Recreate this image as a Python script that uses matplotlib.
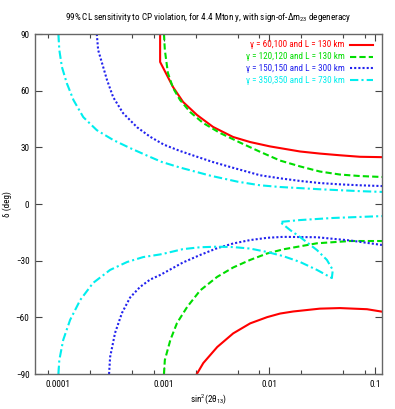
import numpy as np
import matplotlib
matplotlib.use("Agg")
import matplotlib.pyplot as plt
from matplotlib.ticker import LogLocator, FixedLocator, NullFormatter

plt.rcParams['font.family'] = ['Roboto Condensed', 'DejaVu Sans']
plt.rcParams['mathtext.fontset'] = 'custom'
plt.rcParams['mathtext.rm'] = 'Roboto Condensed'
plt.rcParams['mathtext.it'] = 'Roboto Condensed:italic'

# red: gamma = 60,100, L = 130 km
red_up_x = [9.2e-4, 9.2e-4, 1.22e-3, 1.52e-3, 2.06e-3, 2.92e-3, 4.51e-3, 6.56e-3, 1.01e-2,
            1.95e-2, 3.0e-2, 4.65e-2, 7.2e-2, 0.1165]
red_up_y = [90, 75.2, 61.9, 54.0, 47.1, 40.8, 35.5, 32.8, 30.5, 27.8, 26.7, 25.8, 25.0, 24.8]
red_lo_x = [2.05e-3, 2.36e-3, 3.2e-3, 4.53e-3, 6.56e-3, 9.5e-3, 1.26e-2, 1.68e-2, 3.0e-2,
            4.65e-2, 8.4e-2, 0.1165]
red_lo_y = [-90, -84.2, -75.7, -68.5, -63.2, -59.9, -58.0, -56.9, -55.4, -55.1, -55.7, -57.0]

# green: gamma = 120,120, L = 130 km
grn_up_x = [1.0e-3, 1.02e-3, 1.09e-3, 1.22e-3, 1.42e-3, 1.77e-3, 2.35e-3, 3.4e-3, 5.27e-3,
            8.17e-3, 1.26e-2, 1.95e-2, 3.0e-2, 4.65e-2, 7.2e-2, 0.1165]
grn_up_y = [90, 81.5, 69.4, 61.4, 55.1, 48.7, 42.9, 37.6, 32.5, 27.6, 23.0, 19.9, 17.2, 15.6,
            14.8, 14.3]
grn_lo_x = [1.0e-3, 1.02e-3, 1.15e-3, 1.33e-3, 1.66e-3, 2.2e-3, 3.19e-3, 4.53e-3, 6.56e-3,
            9.5e-3, 1.35e-2, 2.82e-2, 5.8e-2, 0.1165]
grn_lo_y = [-90, -82.6, -72.0, -63.0, -54.5, -45.8, -38.6, -33.6, -29.6, -26.2, -24.0, -20.8,
            -19.6, -19.6]

# blue: gamma = 150,150, L = 300 km
blu_up_x = [2.31e-4, 2.38e-4, 2.59e-4, 2.89e-4, 3.3e-4, 4.1e-4, 5.57e-4, 7.4e-4, 1.0e-3,
            1.4e-3, 1.89e-3, 2.92e-3, 4.24e-3, 8.17e-3, 1.26e-2, 1.95e-2, 3.0e-2, 4.65e-2,
            7.2e-2, 0.1165]
blu_up_y = [90, 81.5, 74.6, 65.6, 56.6, 48.1, 40.6, 35.6, 31.4, 28.2, 25.7, 22.2, 19.6, 15.2,
            13.6, 12.2, 11.1, 10.4, 9.9, 9.5]
blu_lo_x = [3.02e-4, 3.09e-4, 3.44e-4, 4.0e-4, 4.78e-4, 5.94e-4, 7.4e-4, 9.2e-4, 1.07e-3,
            1.51e-3, 2.2e-3, 3.19e-3, 4.53e-3, 6.56e-3, 9.5e-3, 1.35e-2, 2.82e-2, 5.8e-2, 0.1165]
blu_lo_y = [-90, -81.0, -68.3, -57.7, -49.5, -43.9, -40.0, -37.6, -35.6, -31.0, -27.0, -23.4,
            -20.9, -19.1, -17.9, -17.4, -17.6, -19.3, -21.7]

# cyan: gamma = 350,350, L = 730 km
cyn_up_x = [1.0e-4, 1.02e-4, 1.08e-4, 1.2e-4, 1.39e-4, 1.72e-4, 2.31e-4, 3.3e-4, 4.78e-4,
            6.93e-4, 9.5e-4, 1.4e-3, 2.75e-3, 5.0e-3, 8.17e-3, 1.26e-2, 1.95e-2, 3.0e-2,
            4.65e-2, 7.2e-2, 0.1165]
cyn_up_y = [90, 81.5, 72.5, 64.0, 55.0, 46.0, 39.1, 33.9, 29.6, 25.6, 22.3, 19.4, 15.0, 11.8,
            9.9, 9.0, 8.4, 7.8, 7.3, 6.8, 6.4]
cyn_lo_x = [1.0e-4, 1.02e-4, 1.11e-4, 1.29e-4, 1.61e-4, 2.13e-4, 3.09e-4, 4.48e-4, 6.36e-4,
            9.2e-4, 1.07e-3, 1.51e-3, 2.2e-3, 3.19e-3, 4.53e-3, 6.56e-3, 9.5e-3, 1.35e-2,
            1.95e-2, 2.82e-2, 3.9e-2, 3.98e-2, 3.5e-2, 2.82e-2, 1.95e-2, 1.57e-2, 1.26e-2,
            1.95e-2, 3.98e-2, 0.1165]
cyn_lo_y = [-90, -82.6, -72.0, -61.4, -50.8, -41.8, -34.9, -30.7, -28.1, -26.7, -25.9, -23.9,
            -22.9, -22.6, -22.8, -23.6, -25.4, -27.6, -30.7, -34.9, -39.2, -34.9, -29.6, -24.4,
            -17.5, -13.8, -9.5, -8.5, -7.4, -6.4]

labels = ['γ = 60,100 and L = 130 km',
          'γ = 120,120 and L = 130 km',
          'γ = 150,150 and L = 300 km',
          'γ = 350,350 and L = 730 km']
colors = ['#ff0000', '#00dd00', '#2222ee', '#00eeee']
styles = ['-', (0, (3, 1.5)), (0, (1, 1)), (0, (4, 1.5, 1, 1.5))]

curves = [(red_up_x, red_up_y, red_lo_x, red_lo_y),
          (grn_up_x, grn_up_y, grn_lo_x, grn_lo_y),
          (blu_up_x, blu_up_y, blu_lo_x, blu_lo_y),
          (cyn_up_x, cyn_up_y, cyn_lo_x, cyn_lo_y)]

fs = 6.6

fig = plt.figure(figsize=(3.95, 4.09), dpi=100)
ax = fig.add_axes([35/395, 35/409, 347/395, 340/409])

for (ux, uy, lx, ly), c, ls in zip(curves, colors, styles):
    ax.plot(ux, uy, color=c, ls=ls, lw=1.5)
    ax.plot(lx, ly, color=c, ls=ls, lw=1.5)

ax.set_xscale('log')
ax.set_xlim(6.0e-5, 0.1165)
ax.set_ylim(-90, 90)
ax.xaxis.set_major_locator(FixedLocator([1e-4, 1e-3, 1e-2, 1e-1]))
ax.set_xticklabels(['0.0001', '0.001', '0.01', '0.1'])
ax.xaxis.set_minor_locator(LogLocator(base=10, subs=(2, 5, 8)))
ax.xaxis.set_minor_formatter(NullFormatter())
ax.set_yticks([-90, -60, -30, 0, 30, 60, 90])
ax.tick_params(which='both', direction='in', top=True, right=True, labelsize=fs,
               color='#444444', width=0.8)
ax.tick_params(which='major', length=5, pad=4)
ax.tick_params(which='minor', length=3)
for s in ax.spines.values():
    s.set_color('#666666')
    s.set_linewidth(1)

ax.set_xlabel(r'sin$^2$(2θ$_{13}$)', fontsize=fs)
ax.xaxis.set_label_coords(0.5, -18/340)
ax.set_ylabel('δ (deg)', fontsize=fs)
ax.yaxis.set_label_coords(-23/347, 0.5)
ax.set_title(r'99% CL sensitivity to CP violation, for 4.4 Mton y, with sign-of-Δm$_{23}$ degeneracy',
             fontsize=fs, pad=10)

# key in the top right corner, text right aligned, sample line after it
for i, (lab, c, ls) in enumerate(zip(labels, colors, styles)):
    yk = 0.968 - i * 0.0345
    ax.text(0.893, yk, lab, color=c, fontsize=fs, ha='right', va='center', transform=ax.transAxes)
    ax.plot([0.908, 0.974], [yk, yk], color=c, ls=ls, lw=1.5, transform=ax.transAxes)

fig.savefig('out.png', dpi=100)
